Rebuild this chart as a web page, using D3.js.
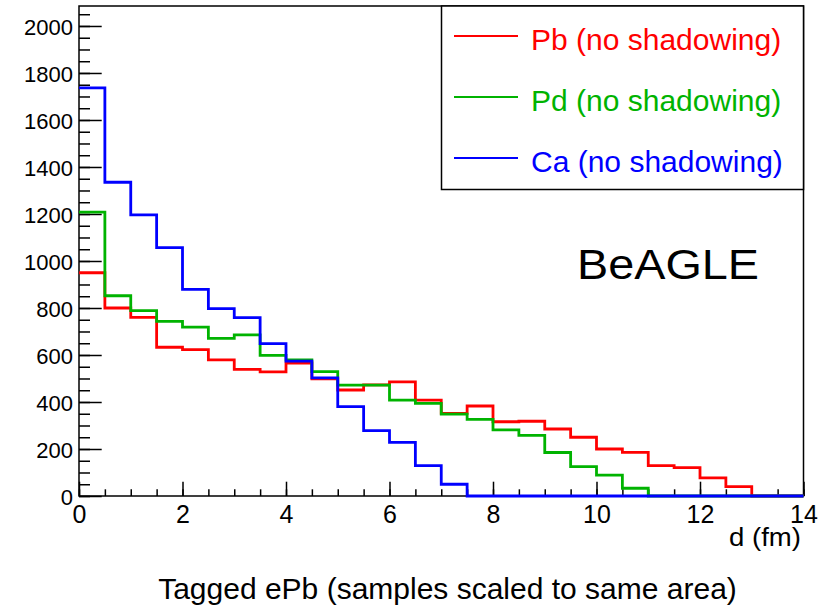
<!DOCTYPE html>
<html>
<head>
<meta charset="utf-8">
<script src="https://cdn.jsdelivr.net/npm/d3@7"></script>
<style>
  body { margin: 0; background: #fff; }
  svg { display: block; font-family: "Liberation Sans", Arial, Helvetica, sans-serif; }
  .tick line { stroke: #000; stroke-width: 1.5; }
  .tick text { fill: #000; }
</style>
</head>
<body>
<div id="chart"></div>
<script>
// bin edges in d (fm), 0.5 fm wide
const binEdges = [0, 0.5, 1, 1.5, 2, 2.5, 3, 3.5, 4, 4.5, 5, 5.5, 6, 6.5, 7,
  7.5, 8, 8.5, 9, 9.5, 10, 10.5, 11, 11.5, 12, 12.5, 13, 13.5, 14];

const pbValues = [950, 800, 760, 633, 623, 579, 539, 528, 566, 498, 451, 473, 486, 408,
  352, 383, 316, 318, 285, 250, 200, 186, 129, 121, 77, 40, 0, 0];
const pdValues = [1208, 852, 789, 743, 719, 671, 686, 598, 579, 529, 472, 472, 408, 394,
  348, 326, 281, 258, 185, 125, 89, 33, 0, 0, 0, 0, 0, 0];
const caValues = [1737, 1335, 1196, 1057, 879, 797, 759, 648, 574, 503, 380, 278, 228, 129,
  50, 0, 0, 0, 0, 0, 0, 0, 0, 0, 0, 0, 0, 0];

const seriesNames = ['Pb (no shadowing)', 'Pd (no shadowing)', 'Ca (no shadowing)'];
const seriesColors = ['#ff0000', '#00b300', '#0000ff'];
const xTickValues = [0, 2, 4, 6, 8, 10, 12, 14];
const yTickValues = [0, 200, 400, 600, 800, 1000, 1200, 1400, 1600, 1800, 2000];

const width = 832;
const height = 607;
const plot = {left: 79, right: 803.5, top: 6, bottom: 496};

const svg = d3.select('#chart').append('svg')
  .attr('width', width)
  .attr('height', height);

const x = d3.scaleLinear().domain([0, 14]).range([plot.left, plot.right]);
const y = d3.scaleLinear().domain([0, 2085]).range([plot.bottom, plot.top]);

// minor ticks first, majors on top
const xMinor = d3.range(0, 14.01, 0.5);
const yMinor = d3.range(0, 2051, 50);

svg.append('g')
  .attr('transform', `translate(0,${plot.bottom})`)
  .call(d3.axisBottom(x).tickValues(xMinor).tickSize(-6.7).tickFormat(''))
  .call(g => g.select('.domain').remove());
svg.append('g')
  .attr('transform', `translate(${plot.left},0)`)
  .call(d3.axisLeft(y).tickValues(yMinor).tickSize(-11).tickFormat(''))
  .call(g => g.select('.domain').remove());

const xAxis = svg.append('g')
  .attr('transform', `translate(0,${plot.bottom})`)
  .call(d3.axisBottom(x).tickValues(xTickValues).tickSize(-14.3).tickPadding(9).tickFormat(d3.format('d')));
xAxis.select('.domain').remove();
xAxis.selectAll('text').attr('font-size', 25);

const yAxis = svg.append('g')
  .attr('transform', `translate(${plot.left},0)`)
  .call(d3.axisLeft(y).tickValues(yTickValues).tickSize(-22.7).tickPadding(6).tickFormat(d3.format('d')));
yAxis.select('.domain').remove();
yAxis.selectAll('text').attr('font-size', 22).attr('dy', 8.5);

// frame
svg.append('rect')
  .attr('x', plot.left)
  .attr('y', plot.top)
  .attr('width', plot.right - plot.left)
  .attr('height', plot.bottom - plot.top)
  .attr('fill', 'none')
  .attr('stroke', '#000')
  .attr('stroke-width', 1.5);

// histograms drawn as steps
const seriesValues = [pbValues, pdValues, caValues];
const stepLine = d3.line()
  .x(d => x(d[0]))
  .y(d => y(d[1]))
  .curve(d3.curveStepAfter);

seriesValues.forEach((vals, i) => {
  const pts = vals.map((v, j) => [binEdges[j], v]);
  pts.push([binEdges[binEdges.length - 1], vals[vals.length - 1]]);
  svg.append('path')
    .attr('class', 'hist')
    .attr('d', stepLine(pts))
    .attr('fill', 'none')
    .attr('stroke', seriesColors[i])
    .attr('stroke-width', 2.8);
});

// legend
const legend = svg.append('g').attr('class', 'legend');
legend.append('rect')
  .attr('x', 441.5)
  .attr('y', plot.top)
  .attr('width', plot.right - 441.5)
  .attr('height', 189.5 - plot.top)
  .attr('fill', '#fff')
  .attr('stroke', '#000')
  .attr('stroke-width', 1.5);

const rows = legend.selectAll('.legendRow')
  .data(seriesNames)
  .enter()
  .append('g')
  .attr('class', 'legendRow')
  .attr('transform', (d, i) => `translate(0, ${50 + i * 61})`);
rows.append('line')
  .attr('x1', 454)
  .attr('x2', 518)
  .attr('y1', -14)
  .attr('y2', -14)
  .attr('stroke', (d, i) => seriesColors[i])
  .attr('stroke-width', 2);
rows.append('text')
  .attr('x', 531)
  .attr('y', 0)
  .attr('font-size', 30)
  .attr('fill', (d, i) => seriesColors[i])
  .text(d => d);

// labels
svg.append('text')
  .attr('x', 577)
  .attr('y', 278.5)
  .attr('font-size', 43)
  .attr('textLength', 182)
  .attr('lengthAdjust', 'spacingAndGlyphs')
  .text('BeAGLE');

svg.append('text')
  .attr('x', 729)
  .attr('y', 546)
  .attr('font-size', 25)
  .attr('textLength', 72)
  .attr('lengthAdjust', 'spacingAndGlyphs')
  .text('d (fm)');

svg.append('text')
  .attr('x', 447.5)
  .attr('y', 599)
  .attr('text-anchor', 'middle')
  .attr('font-size', 30)
  .text('Tagged ePb (samples scaled to same area)');
</script>
</body>
</html>
